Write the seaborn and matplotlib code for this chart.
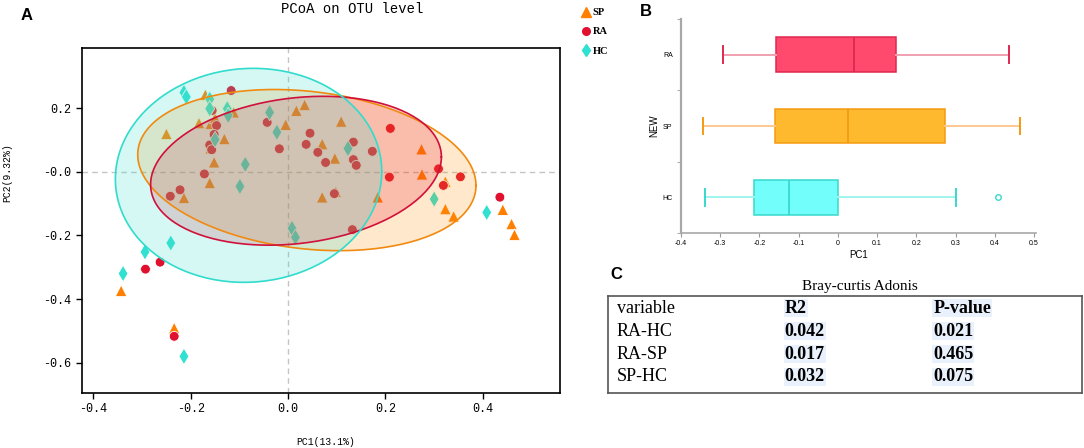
import numpy as np
import pandas as pd
import matplotlib
matplotlib.use("Agg")
import matplotlib.pyplot as plt
import seaborn as sns
from matplotlib.lines import Line2D


# 1. Data

sp_pc1 = [-0.170, -0.250, -0.183, -0.159, -0.150, -0.112, -0.131, -0.159, -0.152, -0.161,
          -0.214, -0.343, -0.234, -0.005, 0.017, 0.034, 0.109, 0.070, 0.096, 0.098,
          0.070, 0.184, 0.274, 0.275, 0.323, 0.323, 0.340, 0.441, 0.459, 0.465]
sp_pc2 = [0.242, 0.119, 0.153, 0.151, 0.169, 0.187, 0.103, 0.074, 0.030, -0.035,
          -0.082, -0.374, -0.491, 0.148, 0.192, 0.210, 0.158, 0.087, 0.042, -0.063,
          -0.080, -0.080, 0.071, -0.008, -0.031, -0.117, -0.140, -0.119, -0.164, -0.198]

ra_pc1 = [-0.117, -0.156, -0.147, -0.152, -0.161, -0.157, -0.172, -0.222, -0.242, -0.293,
          -0.263, -0.234, -0.043, -0.018, 0.045, 0.037, 0.061, 0.077, 0.134, 0.134,
          0.140, 0.173, 0.095, 0.132, 0.210, 0.208, 0.309, 0.319, 0.354, 0.435]
ra_pc2 = [0.255, 0.192, 0.145, 0.117, 0.084, 0.069, -0.007, -0.057, -0.077, -0.306,
          -0.284, -0.517, 0.155, 0.072, 0.121, 0.086, 0.061, 0.029, 0.093, 0.038,
          0.020, 0.064, -0.069, -0.182, 0.136, -0.017, 0.009, -0.043, -0.016, -0.080]

hc_pc1 = [-0.214, -0.209, -0.161, -0.161, -0.125, -0.123, -0.150, -0.038, -0.023, -0.088,
          -0.099, 0.123, 0.008, 0.015, -0.241, -0.294, -0.339, -0.214, 0.300, 0.408]
hc_pc2 = [0.249, 0.235, 0.228, 0.198, 0.198, 0.177, 0.101, 0.186, 0.124, 0.023,
          -0.046, 0.073, -0.178, -0.206, -0.224, -0.252, -0.320, -0.580, -0.086, -0.128]

groups = ["SP", "RA", "HC"]
box_order = ["RA", "SP", "HC"]

pairs = ["RA-HC", "RA-SP", "SP-HC"]
r2_values = [0.042, 0.017, 0.032]
p_values = [0.021, 0.465, 0.075]

pc1_ticks = [-0.4, -0.2, 0.0, 0.2, 0.4]
pc1_labels = ["-0.4", "-0.2", "0.0", "0.2", "0.4"]
pc2_ticks = [0.2, 0.0, -0.2, -0.4, -0.6]
pc2_labels = ["0.2", "-0.0", "-0.2", "-0.4", "-0.6"]
box_ticks = [-0.4, -0.3, -0.2, -0.1, 0.0, 0.1, 0.2, 0.3, 0.4, 0.5]
box_labels = ["-0.4", "-0.3", "-0.2", "-0.1", "0", "0.1", "0.2", "0.3", "0.4", "0.5"]

df = pd.concat([
    pd.DataFrame({"PC1": sp_pc1, "PC2": sp_pc2, "group": "SP"}),
    pd.DataFrame({"PC1": ra_pc1, "PC2": ra_pc2, "group": "RA"}),
    pd.DataFrame({"PC1": hc_pc1, "PC2": hc_pc2, "group": "HC"}),
], ignore_index=True)

point_col = {"SP": "#ff8000", "RA": "#e0102e", "HC": "#30e0d0"}
markers = {"SP": "^", "RA": "o", "HC": "d"}
sizes = {"SP": 70, "RA": 50, "HC": 70}
ell_edge = {"SP": "#f08a10", "RA": "#d0103a", "HC": "#30dccc"}
ell_fill = {"SP": "#ff8c00", "RA": "#e8102a", "HC": "#40e0d0"}
ell_alpha = {"SP": 0.2, "RA": 0.2, "HC": 0.22}

box_fill = {"RA": "#ff4a6e", "SP": "#ffb92e", "HC": "#72fffc"}
box_edge = {"RA": "#e0284e", "SP": "#f59a10", "HC": "#38d8cc"}
box_whisk = {"RA": "#f0a0b0", "SP": "#ffc890", "HC": "#a0f4ee"}


# 2. Helpers

def conf_ellipse(x, y, level=0.66, segments=200):
    # normal-theory ellipse around the group mean
    center = np.array([np.mean(x), np.mean(y)])
    cov = np.cov(x, y)
    radius = np.sqrt(-2 * np.log(1 - level))
    ang = np.linspace(0, 2 * np.pi, segments)
    circle = np.column_stack([np.cos(ang), np.sin(ang)])
    L = np.linalg.cholesky(cov)
    return center + radius * circle @ L.T


def box_stats(x, whis=1.5):
    x = np.asarray(x)
    q1, med, q3 = np.percentile(x, [25, 50, 75], method="weibull")
    iqr = q3 - q1
    lo, hi = q1 - whis * iqr, q3 + whis * iqr
    return {"q1": q1, "med": med, "q3": q3,
            "whislo": x[x >= lo].min(), "whishi": x[x <= hi].max(),
            "fliers": x[(x < lo) | (x > hi)]}


# 3. Figure

plt.rcParams["font.family"] = ["DejaVu Sans"]
fig = plt.figure(figsize=(10.84, 4.48), dpi=100)

mono = "Liberation Mono"
serif = "Liberation Serif"
sans = "Liberation Sans"

# Panel A
ax = fig.add_axes([0.0756, 0.1228, 0.441, 0.770])
ax.axvline(0, color="#c4c4c4", lw=1, ls=(0, (4, 3)), zorder=1)
ax.axhline(0, color="#c4c4c4", lw=1, ls=(0, (4, 3)), zorder=1)
sns.scatterplot(data=df, x="PC1", y="PC2", hue="group", style="group", size="group",
                hue_order=groups, palette=point_col, markers=markers, sizes=sizes,
                edgecolor="white", linewidth=0.6, legend=False, ax=ax, zorder=2)
for g in groups:
    sub = df[df["group"] == g]
    e = conf_ellipse(sub["PC1"].values, sub["PC2"].values)
    ax.fill(e[:, 0], e[:, 1], color=ell_fill[g], alpha=ell_alpha[g], lw=0, zorder=3)
    ax.plot(e[:, 0], e[:, 1], color=ell_edge[g], lw=1.2, zorder=4)

ax.set_xlim(-0.4235, 0.5585)
ax.set_ylim(-0.695, 0.3885)
ax.set_xticks(pc1_ticks)
ax.set_xticklabels(pc1_labels, family=mono, fontsize=8.5)
ax.set_yticks(pc2_ticks)
ax.set_yticklabels(pc2_labels, family=mono, fontsize=8.5)
ax.tick_params(length=4, width=1, color="black")
for s in ax.spines.values():
    s.set_color("black")
    s.set_linewidth(1.2)
ax.set_xlabel("PC1(13.1%)", family=mono, fontsize=7)
ax.xaxis.label.set_va("center")
ax.xaxis.set_label_coords(0.51, -0.142)
ax.set_ylabel("PC2(9.32%)", family=mono, fontsize=7)
ax.yaxis.label.set_va("center")
ax.yaxis.set_label_coords(-0.157, 0.64)

fig.text(352 / 1084, 1 - 9 / 448, "PCoA on OTU level", family=mono, fontsize=10,
         ha="center", va="center")

handles = [Line2D([], [], ls="none", marker=markers[g], color=point_col[g],
                  markersize=6.5 if g != "RA" else 5.5, markeredgecolor=point_col[g])
           for g in groups]
leg = fig.legend(handles, groups, loc="upper left", bbox_to_anchor=(0.536, 1 - 8 / 448),
                 frameon=False, handletextpad=0.2, handlelength=0.9, labelspacing=0.95,
                 borderaxespad=0, borderpad=0,
                 prop={"family": serif, "weight": "bold", "size": 7.5})

# Panel B
axb = fig.add_axes([0.6282, 0.4799, 0.3275, 0.4777])
sns.despine(ax=axb)
for i, g in enumerate(box_order):
    st = box_stats(df.loc[df["group"] == g, "PC1"])
    axb.bxp([st], positions=[i], orientation="horizontal", widths=0.49, capwidths=0.23,
            patch_artist=True, showfliers=True,
            boxprops={"facecolor": box_fill[g], "edgecolor": box_edge[g], "linewidth": 1.1},
            whiskerprops={"color": box_whisk[g], "linewidth": 1.4},
            capprops={"color": box_edge[g], "linewidth": 1.4},
            medianprops={"color": box_edge[g], "linewidth": 1.3},
            flierprops={"marker": "o", "markerfacecolor": "none",
                        "markeredgecolor": box_edge[g], "markersize": 4})
axb.set_xlim(-0.4, 0.505)
axb.set_ylim(2.5, -0.5)
axb.set_xticks(box_ticks)
axb.set_xticklabels(box_labels, family=sans, fontsize=5)
axb.set_yticks([0, 1, 2])
axb.set_yticklabels(box_order, family=sans, fontsize=5)
axb.set_yticks([-0.5, 0.5, 1.5, 2.5], minor=True)
axb.tick_params(axis="y", which="major", length=0, pad=6)
axb.tick_params(axis="y", which="minor", length=3, color="#999999")
axb.tick_params(axis="x", length=3, color="#999999", pad=2)
axb.spines["left"].set_color("#a8a8a8")
axb.spines["left"].set_linewidth(1.6)
axb.spines["bottom"].set_color("#a8a8a8")
axb.spines["bottom"].set_linewidth(1.2)
axb.set_xlabel("PC1", family=sans, fontsize=7, labelpad=2)
axb.set_ylabel("NEW", family=sans, fontsize=7, labelpad=2)

# Panel C - Adonis table
axc = fig.add_axes([608 / 1084, 1 - 393 / 448, 474 / 1084, 97 / 448])
axc.set_xticks([])
axc.set_yticks([])
for s in axc.spines.values():
    s.set_color("#555555")
    s.set_linewidth(1.2)
axc.text(0.532, 1.093, "Bray-curtis Adonis", family=serif, fontsize=11,
         ha="center", va="center", transform=axc.transAxes)
col_x = [0.019, 0.373, 0.686]
row_y = [0.876, 0.639, 0.402, 0.165]
hl = {"facecolor": "#e9f1fc", "edgecolor": "none", "pad": 0.6}
axc.text(col_x[0], row_y[0], "variable", family=serif, fontsize=13, va="center",
         transform=axc.transAxes)
axc.text(col_x[1], row_y[0], "R2", family=serif, fontsize=13, weight="bold",
         va="center", transform=axc.transAxes, bbox=hl)
axc.text(col_x[2], row_y[0], "P-value", family=serif, fontsize=13, weight="bold",
         va="center", transform=axc.transAxes, bbox=hl)
for i, (pr, r2, pv) in enumerate(zip(pairs, r2_values, p_values)):
    y = row_y[i + 1]
    axc.text(col_x[0], y, pr, family=serif, fontsize=13, va="center", transform=axc.transAxes)
    axc.text(col_x[1], y, f"{r2:.3f}", family=serif, fontsize=13, weight="bold",
             va="center", transform=axc.transAxes, bbox=hl)
    axc.text(col_x[2], y, f"{pv:.3f}", family=serif, fontsize=13, weight="bold",
             va="center", transform=axc.transAxes, bbox=hl)

# Panel letters
for lbl, px, py in [("A", 27, 15), ("B", 646, 12), ("C", 616, 274)]:
    fig.text(px / 1084, 1 - py / 448, lbl, family=sans, weight="bold", fontsize=12,
             ha="center", va="center")

fig.savefig("out.png", dpi=100)
